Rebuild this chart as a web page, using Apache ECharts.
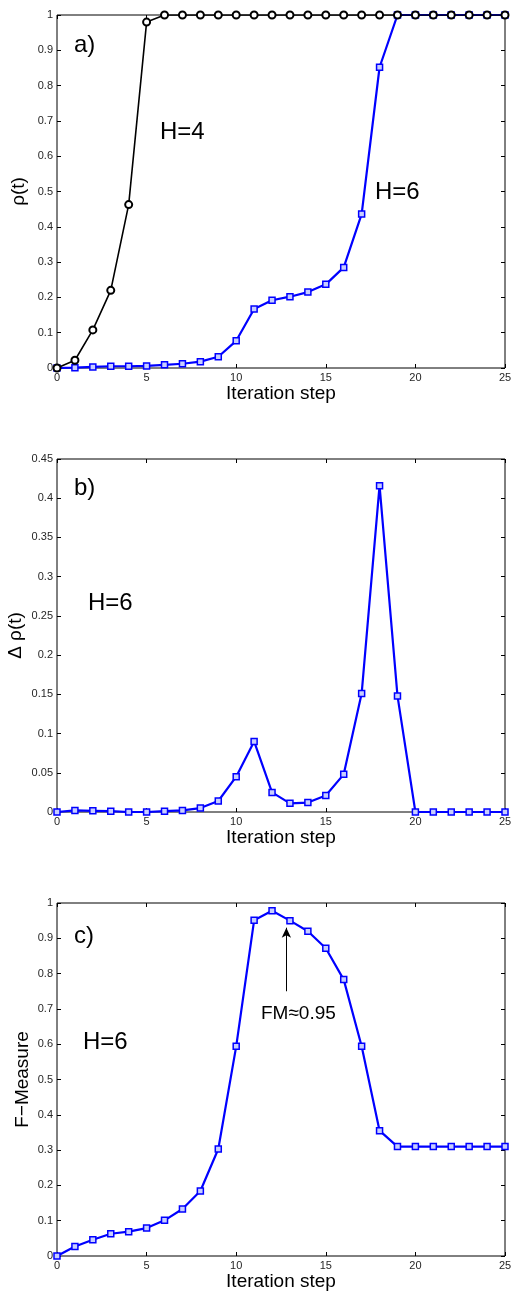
<!DOCTYPE html>
<html>
<head>
<meta charset="utf-8">
<script src="https://cdn.jsdelivr.net/npm/echarts@6/dist/echarts.min.js"></script>
<style>
  html, body { margin: 0; padding: 0; background: #fff; }
  #chart { width: 516px; height: 1291px; }
</style>
</head>
<body>
<div id="chart"></div>
<script>
// iteration steps 0..25
var steps = [];
for (var i = 0; i <= 25; i++) steps.push(i);

// a) rho(t)
var rhoH4 = [0, 0.022, 0.108, 0.22, 0.463, 0.98, 1, 1, 1, 1, 1, 1, 1, 1, 1, 1, 1, 1, 1, 1, 1, 1, 1, 1, 1, 1];
var rhoH6 = [0, 0.001, 0.003, 0.005, 0.005, 0.006, 0.009, 0.012, 0.018, 0.032, 0.077, 0.167, 0.192, 0.202, 0.215, 0.237, 0.285, 0.436, 0.852, 1, 1, 1, 1, 1, 1, 1];
// b) delta rho(t)
var deltaRhoH6 = [0, 0.002, 0.0015, 0.001, 0, 0, 0.001, 0.002, 0.005, 0.014, 0.045, 0.090, 0.025, 0.011, 0.012, 0.021, 0.048, 0.151, 0.416, 0.148, 0, 0, 0, 0, 0, 0];
// c) F-measure
var fMeasureH6 = [0, 0.027, 0.046, 0.063, 0.069, 0.079, 0.101, 0.133, 0.184, 0.303, 0.594, 0.951, 0.978, 0.950, 0.920, 0.872, 0.783, 0.594, 0.355, 0.310, 0.310, 0.310, 0.310, 0.310, 0.310, 0.310];

// [min, max, interval]
var yTicksA = [0, 1, 0.1];
var yTicksB = [0, 0.45, 0.05];
var yTicksC = [0, 1, 0.1];

var FONT = '"Liberation Sans", Arial, sans-serif';
var BLUE = '#0000ff';

function pairs (ys) {
    return ys.map(function (y, i) { return [steps[i], y]; });
}

var gridTops = [15, 459, 903];
var grids = gridTops.map(function (t) {
    return {left: 57, right: 11, top: t, height: 353, show: true,
        borderColor: '#000', borderWidth: 1, outerBoundsMode: 'none', containLabel: false};
});

// onZero off, otherwise the top/right axes jump onto the zero line
var hiddenLine = {show: false, onZero: false};
var innerTick = {inside: true, length: 4, lineStyle: {color: '#000'}};

function xAxes (g) {
    var base = {
        gridIndex: g, type: 'value', min: 0, max: 25, interval: 5,
        axisLine: hiddenLine, splitLine: {show: false}, axisTick: innerTick
    };
    return [
        Object.assign({}, base, {
            position: 'bottom',
            name: 'Iteration step', nameLocation: 'middle', nameGap: 16,
            nameTextStyle: {fontFamily: FONT, fontSize: 19, color: '#000'},
            axisLabel: {fontFamily: FONT, fontSize: 11, color: '#262626', margin: 4}
        }),
        Object.assign({}, base, {position: 'top', axisLabel: {show: false}})
    ];
}

function yAxes (g, ticks, name, gap) {
    var base = {
        gridIndex: g, type: 'value', min: ticks[0], max: ticks[1], interval: ticks[2],
        axisLine: hiddenLine, splitLine: {show: false}, axisTick: innerTick
    };
    return [
        Object.assign({}, base, {
            position: 'left',
            name: name, nameLocation: 'middle', nameGap: gap, nameMoveOverlap: false,
            nameTextStyle: {fontFamily: FONT, fontSize: 19, color: '#000'},
            axisLabel: {fontFamily: FONT, fontSize: 11, color: '#262626', margin: 4}
        }),
        Object.assign({}, base, {position: 'right', axisLabel: {show: false}})
    ];
}

function blueSeries (xi, yi, data) {
    return {
        type: 'line', xAxisIndex: xi, yAxisIndex: yi, data: pairs(data),
        symbol: 'rect', symbolSize: 6, showAllSymbol: true,
        lineStyle: {color: BLUE, width: 2.2},
        itemStyle: {color: '#c8ceff', borderColor: BLUE, borderWidth: 1.5},
        z: 3
    };
}

function label (x, y, text, size) {
    return {type: 'text', left: x, top: y, z: 10,
        style: {text: text, fontFamily: FONT, fontSize: size || 24, fill: '#000'}};
}

var option = {
    animation: false,
    backgroundColor: '#fff',
    grid: grids,
    xAxis: [].concat(xAxes(0), xAxes(1), xAxes(2)),
    yAxis: [].concat(
        yAxes(0, yTicksA, 'ρ(t)', 29),
        yAxes(1, yTicksB, 'Δ ρ(t)', 32),
        yAxes(2, yTicksC, 'F−Measure', 25)
    ),
    series: [
        blueSeries(0, 0, rhoH6),
        {
            type: 'line', xAxisIndex: 0, yAxisIndex: 0, data: pairs(rhoH4),
            symbol: 'emptyCircle', symbolSize: 7, showAllSymbol: true,
            lineStyle: {color: '#000', width: 1.6},
            itemStyle: {color: '#000', borderWidth: 1.5},
            z: 4
        },
        blueSeries(2, 2, deltaRhoH6),
        Object.assign(blueSeries(4, 4, fMeasureH6), {
            markLine: {
                silent: true, symbol: ['none', 'arrow'], symbolSize: [7, 10],
                label: {show: false},
                lineStyle: {color: '#000', width: 1, type: 'solid'},
                data: [[{coord: [12.8, 0.75]}, {coord: [12.8, 0.93]}]]
            }
        })
    ],
    graphic: [
        label(74, 33, 'a)'),
        label(160, 120, 'H=4'),
        label(375, 180, 'H=6'),
        label(74, 476, 'b)'),
        label(88, 591, 'H=6'),
        label(74, 924, 'c)'),
        label(83, 1030, 'H=6'),
        label(261, 1004, 'FM≈0.95', 19)
    ]
};

var chart = echarts.init(document.getElementById('chart'));
chart.setOption(option);
</script>
</body>
</html>
